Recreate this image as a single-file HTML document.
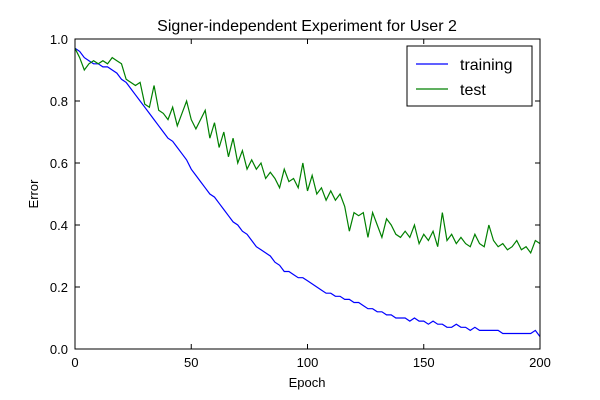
<!DOCTYPE html>
<html><head><meta charset="utf-8"><style>
body{margin:0;background:#fff;}
svg{display:block;font-family:"Liberation Sans","DejaVu Sans",sans-serif;}
</style></head><body>
<svg id="chart" width="600" height="400">
<rect width="600" height="400" fill="#fff"/>
<text x="307" y="31" font-size="16" text-anchor="middle">Signer-independent Experiment for User 2</text>
<g id="marks"></g>
<rect x="75" y="39" width="465" height="310" fill="none" stroke="#000" stroke-width="1"/>
<g id="ticks"></g>
<text x="307" y="387" font-size="13" text-anchor="middle">Epoch</text>
<text x="38" y="194" font-size="13" text-anchor="middle" transform="rotate(-90 38 194)">Error</text>
<g>
<rect x="407" y="46" width="125" height="60" fill="#fff" stroke="#000"/>
<line x1="416" y1="64" x2="448" y2="64" stroke="#0000ff" stroke-width="1.2"/>
<text x="460" y="70" font-size="16">training</text>
<line x1="416" y1="89" x2="448" y2="89" stroke="#008000" stroke-width="1.2"/>
<text x="460" y="95" font-size="16">test</text>
</g>
</svg>
<script>
const epochs = [];
for (let i = 0; i <= 100; i++) epochs.push(i * 2);
const trainingError = [0.97,0.96,0.94,0.93,0.92,0.92,0.91,0.91,0.90,0.89,
0.87,0.86,0.84,0.82,0.80,0.78,0.76,0.74,0.72,0.70,
0.68,0.67,0.65,0.63,0.61,0.58,0.56,0.54,0.52,0.50,
0.49,0.47,0.45,0.43,0.41,0.40,0.38,0.37,0.35,0.33,
0.32,0.31,0.30,0.28,0.27,0.25,0.25,0.24,0.23,0.23,
0.22,0.21,0.20,0.19,0.18,0.18,0.17,0.17,0.16,0.16,
0.15,0.15,0.14,0.13,0.13,0.12,0.12,0.11,0.11,0.10,
0.10,0.10,0.09,0.10,0.09,0.09,0.08,0.09,0.08,0.08,
0.07,0.07,0.08,0.07,0.07,0.06,0.07,0.06,0.06,0.06,
0.06,0.06,0.05,0.05,0.05,0.05,0.05,0.05,0.05,0.06,
0.04];
const testError = [0.97,0.94,0.90,0.92,0.93,0.92,0.93,0.92,0.94,0.93,
0.92,0.87,0.86,0.85,0.86,0.79,0.78,0.85,0.77,0.76,
0.74,0.78,0.72,0.76,0.80,0.74,0.71,0.74,0.77,0.68,
0.73,0.65,0.70,0.62,0.68,0.60,0.64,0.58,0.61,0.58,
0.60,0.55,0.57,0.55,0.52,0.58,0.54,0.55,0.52,0.60,
0.51,0.56,0.50,0.52,0.48,0.51,0.48,0.50,0.46,0.38,
0.44,0.43,0.44,0.36,0.44,0.40,0.36,0.42,0.40,0.37,
0.36,0.38,0.36,0.40,0.34,0.37,0.35,0.38,0.33,0.44,
0.35,0.37,0.34,0.36,0.34,0.33,0.37,0.34,0.33,0.40,
0.35,0.33,0.34,0.32,0.33,0.35,0.32,0.33,0.31,0.35,
0.34];
const xTicks = [0,50,100,150,200];
const yTicks = [0.0,0.2,0.4,0.6,0.8,1.0];

const NS = "http://www.w3.org/2000/svg";
const X0=75, X1=540, Y0=349, Y1=39;
function xs(v){return X0 + (v/200)*(X1-X0);}
function ys(v){return Y0 - v*(Y0-Y1);}
const marks = document.getElementById('marks');
function line(data, color, name){
  const p = document.createElementNS(NS,'path');
  p.setAttribute('d', data.map((v,i)=>(i?'L':'M')+xs(epochs[i]).toFixed(2)+','+ys(v).toFixed(2)).join(''));
  p.setAttribute('fill','none');
  p.setAttribute('stroke',color);
  p.setAttribute('stroke-width','1.2');
  
  
  marks.appendChild(p);
}
line(trainingError,'#0000ff','training-line');
line(testError,'#008000','test-line');

const ticks = document.getElementById('ticks');
function mk(tag, attrs){const e=document.createElementNS(NS,tag);for(const k in attrs)e.setAttribute(k,attrs[k]);ticks.appendChild(e);return e;}
xTicks.forEach(t=>{
  const x=xs(t);
  mk('line',{x1:x,y1:Y0,x2:x,y2:Y0-5,stroke:'#000'});
  mk('line',{x1:x,y1:Y1,x2:x,y2:Y1+5,stroke:'#000'});
  const tx=mk('text',{x:x,y:Y0+18,'font-size':13,'text-anchor':'middle'});
  tx.textContent=t;
  
  
});
yTicks.forEach(t=>{
  const y=ys(t);
  mk('line',{x1:X0,y1:y,x2:X0+5,y2:y,stroke:'#000'});
  mk('line',{x1:X1,y1:y,x2:X1-5,y2:y,stroke:'#000'});
  const tx=mk('text',{x:X0-7,y:y+5,'font-size':13,'text-anchor':'end'});
  tx.textContent=t.toFixed(1);
  
  
});
</script>
</body></html>
